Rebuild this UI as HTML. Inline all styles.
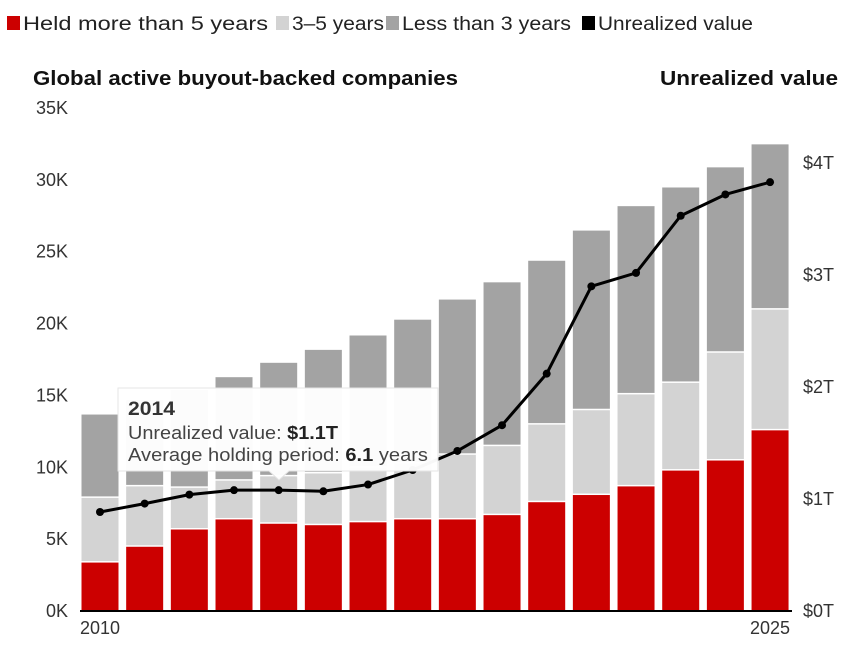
<!DOCTYPE html>
<html><head><meta charset="utf-8">
<style>
body{margin:0;background:#fff;font-family:"Liberation Sans",sans-serif;}
#wrap{position:relative;width:864px;height:645px;overflow:hidden;}
</style></head>
<body>
<div id="wrap">
<svg id="chart" width="864" height="645"></svg>
</div>
<script>
const years=[2010,2011,2012,2013,2014,2015,2016,2017,2018,2019,2020,2021,2022,2023,2024,2025];
const heldOver5=[3.3,4.4,5.6,6.3,6.0,5.9,6.1,6.3,6.3,6.6,7.5,8.0,8.6,9.7,10.4,12.5];
const held3to5=[4.5,4.2,2.9,2.7,3.3,3.6,3.8,3.9,4.5,4.8,5.4,5.9,6.4,6.1,7.5,8.4];
const under3=[5.8,6.0,6.8,7.2,7.9,8.6,9.2,10.0,10.8,11.4,11.4,12.5,13.1,13.6,12.9,11.5];
const unrealized=[0.875,0.95,1.03,1.07,1.07,1.06,1.12,1.25,1.42,1.65,2.11,2.89,3.01,3.52,3.71,3.82];
const leftTicks=[0,5,10,15,20,25,30,35];
const rightTicks=[0,1,2,3,4];

const NS="http://www.w3.org/2000/svg";
const svg=document.getElementById('chart');
function el(t,a,p){const e=document.createElementNS(NS,t);for(const k in a)e.setAttribute(k,a[k]);(p||svg).appendChild(e);return e;}
const y0=610,x0=100,step=44.67,bw=37;
const yL=v=>y0-v*(503/35);
const yR=v=>y0-v*112;
const xC=i=>x0+i*step;

// legend
const leg=[["#cc0000","Held more than 5 years",7,245],["#d3d3d3","3–5 years",276,92],["#a3a3a3","Less than 3 years",386,169],["#000","Unrealized value",582,155]];
leg.forEach(l=>{
 const g=el('g',{});
 
 
 el('rect',{x:l[2],y:16,width:13,height:14,fill:l[0]},g);
 const t=el('text',{x:l[2]+16,y:30,'font-size':19,fill:'#222',textLength:l[3],lengthAdjust:'spacingAndGlyphs'},g);t.textContent=l[1];
});
let t=el('text',{x:33,y:85,'font-size':20,'font-weight':'bold',fill:'#111',textLength:425,lengthAdjust:'spacingAndGlyphs'});t.textContent='Global active buyout-backed companies';

t=el('text',{x:660,y:85,'font-size':20,'font-weight':'bold',fill:'#111',textLength:178,lengthAdjust:'spacingAndGlyphs'});t.textContent='Unrealized value';


leftTicks.forEach(v=>{const e=el('text',{x:68,y:yL(v)+7,'font-size':18,fill:'#333','text-anchor':'end'});e.textContent=v+'K';
 });
rightTicks.forEach(v=>{const e=el('text',{x:803,y:yR(v)+7,'font-size':18,fill:'#333'});e.textContent='$'+v+'T';
 });

years.forEach((yr,i)=>{
 const x=xC(i)-bw/2;
 const a=heldOver5[i],b=held3to5[i],c=under3[i];
 let r=el('rect',{x:x,y:yL(a),width:bw,height:yL(0)-yL(a),fill:'#cc0000'});
 
 r=el('rect',{x:x,y:yL(a+b),width:bw,height:yL(a)-yL(a+b)-1.5,fill:'#d3d3d3'});
 
 r=el('rect',{x:x,y:yL(a+b+c),width:bw,height:yL(a+b)-yL(a+b+c)-1.5,fill:'#a3a3a3'});
 
});
const ax=el('line',{x1:80,x2:792,y1:y0+1,y2:y0+1,stroke:'#000','stroke-width':2});

[[0,'2010'],[15,'2025']].forEach(p=>{const e=el('text',{x:xC(p[0]),y:634,'font-size':18,fill:'#333','text-anchor':'middle'});e.textContent=p[1];
 });

const pts=unrealized.map((v,i)=>xC(i)+','+yR(v)).join(' ');
const pl=el('polyline',{points:pts,fill:'none',stroke:'#000','stroke-width':3,'stroke-linejoin':'round'});

unrealized.forEach((v,i)=>{const c=el('circle',{cx:xC(i),cy:yR(v),r:4,fill:'#000'});
 });

// tooltip
const tg=el('g',{});

el('path',{d:'M118,388 H438 V471 H289 L279,480 L269,471 H118 Z',fill:'#fff',stroke:'#e6e6e6','stroke-width':1,opacity:0.97},tg);
t=el('text',{x:128,y:415,'font-size':19,'font-weight':'bold',fill:'#333',textLength:47,lengthAdjust:'spacingAndGlyphs'},tg);t.textContent='2014';
t=el('text',{x:128,y:439,'font-size':18,fill:'#444',textLength:210,lengthAdjust:'spacingAndGlyphs'},tg);t.innerHTML='Unrealized value: <tspan font-weight="bold" fill="#222">$1.1T</tspan>';
t=el('text',{x:128,y:461,'font-size':18,fill:'#444',textLength:300,lengthAdjust:'spacingAndGlyphs'},tg);t.innerHTML='Average holding period: <tspan font-weight="bold" fill="#222">6.1</tspan> years';
</script>
</body></html>
